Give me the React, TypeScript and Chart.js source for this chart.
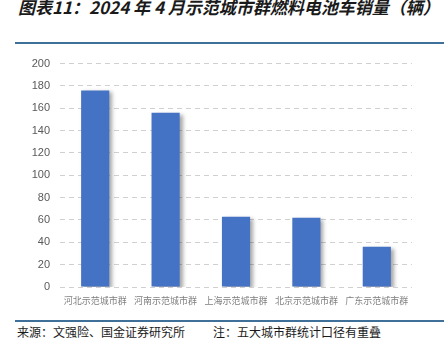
import React, { useEffect, useRef } from "react";
import { Chart, registerables } from "chart.js";

Chart.register(...registerables);

const titleText = "图表11：2024 年 4 月示范城市群燃料电池车销量（辆）";
const sourceText = "来源：文强险、国金证券研究所";
const noteText = "注：五大城市群统计口径有重叠";
const categories = ["河北示范城市群", "河南示范城市群", "上海示范城市群", "北京示范城市群", "广东示范城市群"];
const sales = [176, 156, 63, 62, 36];
const yTicks = [0, 20, 40, 60, 80, 100, 120, 140, 160, 180, 200];

const shadowPlugin = {
  id: "barShadow",
  beforeDatasetsDraw(chart: any) {
    const ctx = chart.ctx;
    ctx.save();
    ctx.shadowColor = "rgba(0,0,0,0.35)";
    ctx.shadowBlur = 4;
    ctx.shadowOffsetX = 3;
    ctx.shadowOffsetY = 2;
  },
  afterDatasetsDraw(chart: any) {
    chart.ctx.restore();
  },
};

export default function App() {
  const ref = useRef<HTMLCanvasElement | null>(null);
  useEffect(() => {
    if (!ref.current) return;
    const chart = new Chart(ref.current, {
      type: "bar",
      data: {
        labels: categories,
        datasets: [
          {
            data: sales,
            backgroundColor: "#4472C4",
            borderWidth: 0,
            barPercentage: 0.4,
            categoryPercentage: 1,
          },
        ],
      },
      options: {
        animation: false,
        responsive: false,
        maintainAspectRatio: false,
        layout: { padding: { left: 0, right: 32, top: 3, bottom: 0 } },
        plugins: { legend: { display: false }, tooltip: { enabled: false } },
        scales: {
          x: {
            grid: { display: false },
            border: { display: false },
            ticks: {
              color: "#7f7f7f",
              font: { family: "'Noto Sans CJK SC'", size: 9 },
              padding: 0,
              maxRotation: 0,
              autoSkip: false,
            },
            afterFit(scale: any) {
              scale.height = 24;
            },
          },
          y: {
            min: 0,
            max: 200,
            afterBuildTicks(scale: any) {
              scale.ticks = yTicks.map((v) => ({ value: v }));
            },
            grid: {
              color: "#d0d0d0",
              lineWidth: 1,
              drawTicks: false,
              tickBorderDash: [5, 4],
            },
            border: { display: false, dash: [5, 4], dashOffset: 0 },
            ticks: {
              color: "#595959",
              font: { family: "'Liberation Sans'", size: 11 },
              padding: 10,
            },
            afterFit(scale: any) {
              scale.width = 60;
            },
          },
        },
      },
      plugins: [shadowPlugin],
    });
    return () => chart.destroy();
  }, []);

  return (
    <div
      style={{
        position: "fixed",
        left: 0,
        top: 0,
        width: 444,
        height: 348,
        background: "#ffffff",
        overflow: "hidden",
      }}
    >
      <div
        style={{
          position: "absolute",
          left: 18,
          top: -4,
          whiteSpace: "nowrap",
          fontFamily: "'Noto Sans CJK SC', 'Liberation Sans', sans-serif",
          fontWeight: 700,
          fontStyle: "italic",
          fontSize: 17,
          lineHeight: "22px",
          color: "#1a1a1a",
        }}
      >
        {titleText}
      </div>
      <div style={{ position: "absolute", left: 15, top: 42, width: 429, height: 2, background: "#3e7099" }} />
      <div style={{ position: "absolute", left: 0, top: 47, width: 444, height: 264 }}>
        <canvas ref={ref} width={444} height={264} style={{ width: 444, height: 264, display: "block" }} />
      </div>
      <div style={{ position: "absolute", left: 15, top: 320, width: 429, height: 2, background: "#3e7099" }} />
      <div
        style={{
          position: "absolute",
          left: 17,
          top: 324,
          whiteSpace: "nowrap",
          fontFamily: "'Noto Sans CJK SC', sans-serif",
          fontSize: 12,
          lineHeight: "16px",
          color: "#1a1a1a",
        }}
      >
        <span>{sourceText}</span>
        <span style={{ position: "absolute", left: 196 }}>{noteText}</span>
      </div>
    </div>
  );
}
